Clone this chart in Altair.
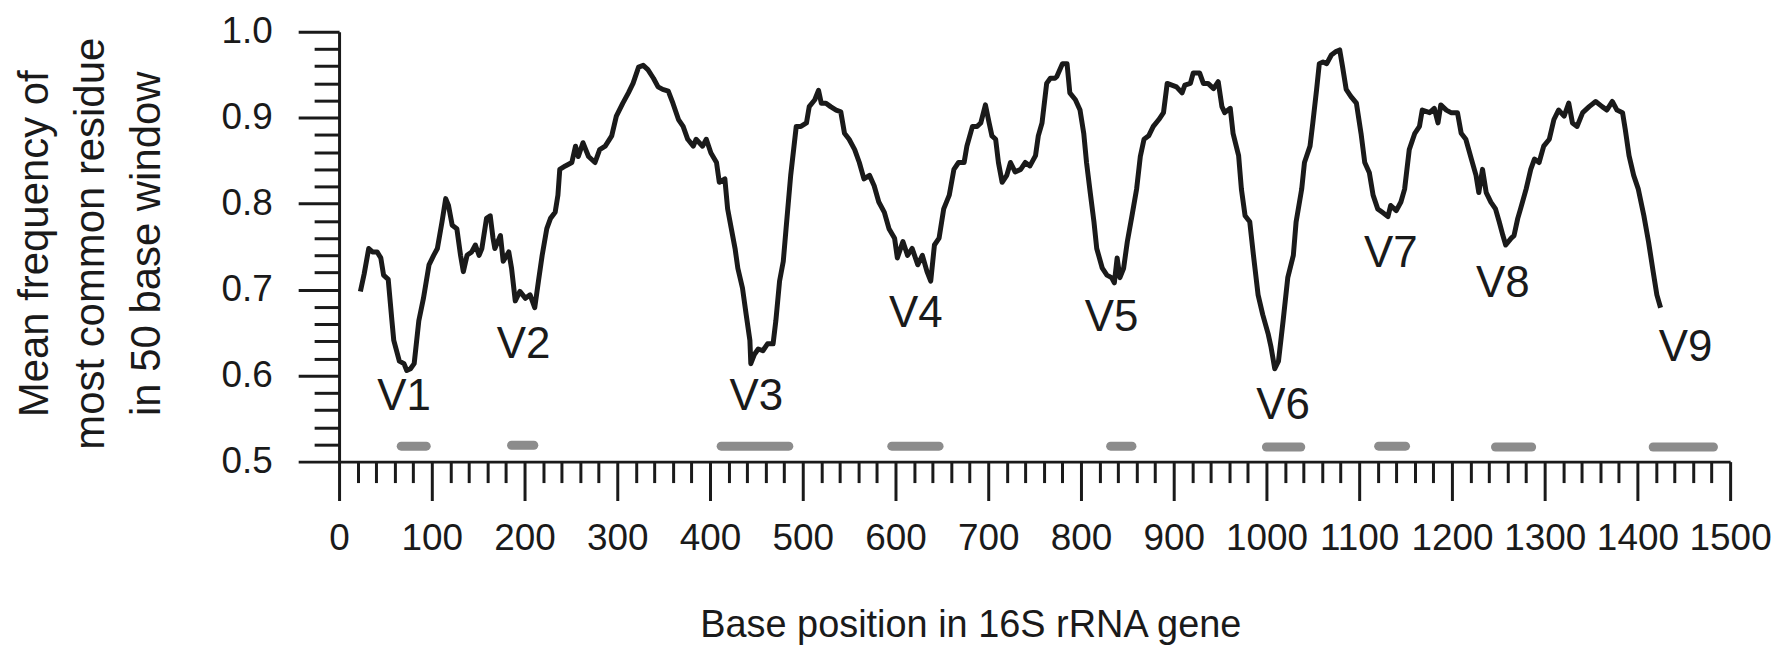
import altair as alt
import pandas as pd

# ---- data ----
position = [23, 27, 32, 36, 41, 45, 48, 53, 57, 59, 65, 70, 73, 77, 81, 86, 91, 97, 102, 106,
            111, 115, 118, 122, 127, 131, 134, 138, 143, 147, 151, 154, 159, 163, 166, 168, 174, 177, 183, 186,
            190, 195, 201, 206, 211, 215, 219, 224, 228, 233, 236, 238, 244, 251, 255, 258, 263, 269, 276, 281,
            287, 294, 299, 306, 312, 317, 323, 328, 333, 339, 344, 349, 355, 360, 366, 371, 376, 382, 385,
            392, 396, 401, 407, 410, 416, 419, 423, 427, 430, 435, 439, 443, 444, 448, 452, 457, 462, 468, 471,
            475, 479, 482, 487, 493, 498, 504, 507, 513, 517, 520, 525, 530, 536, 541, 545, 550, 556, 561, 566,
            572, 577, 582, 588, 593, 599, 602, 608, 613, 618, 624, 629, 634, 638, 642, 647, 652, 658, 663, 668,
            674, 677, 683, 688, 692, 697, 701, 704, 708, 711, 715, 720, 724, 729, 735, 740, 745, 751, 754, 758,
            763, 767, 772, 774, 780, 785, 788, 794, 799, 803, 806, 810, 814, 817, 823, 828, 833, 836, 839, 842,
            846, 850, 855, 860, 864, 868, 873, 878, 884, 889, 893, 898, 903, 909, 912, 918, 921, 928, 932, 937,
            943, 948, 952, 955, 961, 964, 970, 973, 977, 982, 986, 991, 996, 1002, 1005, 1009, 1013, 1018, 1023, 1029,
            1032, 1038, 1041, 1047, 1050, 1054, 1057, 1061, 1065, 1070, 1075, 1079, 1082, 1086, 1091, 1097, 1102, 1106, 1111, 1115,
            1120, 1125, 1131, 1134, 1140, 1145, 1149, 1154, 1160, 1165, 1168, 1176, 1181, 1185, 1188, 1194, 1199, 1206, 1210, 1215,
            1221, 1226, 1229, 1233, 1237, 1242, 1247, 1251, 1255, 1258, 1264, 1267, 1271, 1274, 1280, 1285, 1289, 1294, 1299, 1305,
            1310, 1315, 1321, 1326, 1330, 1335, 1341, 1348, 1355, 1362, 1367, 1373, 1378, 1384, 1387, 1391, 1396, 1401, 1407, 1412,
            1417, 1421, 1425]
frequency = [0.698, 0.718, 0.748, 0.744, 0.744, 0.737, 0.717, 0.712, 0.664, 0.641, 0.617, 0.614, 0.606, 0.608, 0.614, 0.664, 0.690, 0.729, 0.740, 0.748,
             0.779, 0.806, 0.798, 0.775, 0.771, 0.740, 0.721, 0.740, 0.744, 0.752, 0.740, 0.748, 0.783, 0.786, 0.760, 0.748, 0.763, 0.733, 0.744, 0.725,
             0.687, 0.698, 0.690, 0.694, 0.679, 0.710, 0.740, 0.771, 0.783, 0.790, 0.810, 0.840, 0.844, 0.848, 0.867, 0.855, 0.871, 0.855, 0.848, 0.863,
             0.867, 0.879, 0.902, 0.917, 0.929, 0.940, 0.959, 0.961, 0.956, 0.946, 0.936, 0.933, 0.931, 0.917, 0.898, 0.890, 0.875, 0.867, 0.875,
             0.867, 0.875, 0.859, 0.848, 0.825, 0.829, 0.794, 0.771, 0.748, 0.725, 0.702, 0.671, 0.641, 0.614, 0.625, 0.631, 0.629, 0.637, 0.637, 0.664,
             0.710, 0.733, 0.771, 0.833, 0.890, 0.890, 0.894, 0.913, 0.921, 0.932, 0.917, 0.917, 0.913, 0.909, 0.907, 0.882, 0.875, 0.863, 0.848, 0.829,
             0.833, 0.821, 0.802, 0.790, 0.771, 0.760, 0.737, 0.756, 0.740, 0.748, 0.729, 0.740, 0.721, 0.710, 0.752, 0.760, 0.794, 0.810, 0.840, 0.848,
             0.848, 0.867, 0.890, 0.890, 0.894, 0.915, 0.894, 0.879, 0.875, 0.848, 0.825, 0.833, 0.848, 0.837, 0.840, 0.848, 0.844, 0.856, 0.879, 0.894,
             0.940, 0.946, 0.946, 0.948, 0.963, 0.963, 0.929, 0.921, 0.909, 0.882, 0.848, 0.813, 0.779, 0.748, 0.725, 0.717, 0.714, 0.708, 0.737, 0.714,
             0.725, 0.756, 0.786, 0.817, 0.855, 0.875, 0.879, 0.890, 0.898, 0.906, 0.940, 0.938, 0.936, 0.929, 0.938, 0.940, 0.952, 0.952, 0.940, 0.940,
             0.934, 0.942, 0.913, 0.906, 0.911, 0.882, 0.856, 0.817, 0.786, 0.779, 0.740, 0.694, 0.671, 0.648, 0.633, 0.608, 0.617, 0.664, 0.714, 0.740,
             0.779, 0.817, 0.848, 0.867, 0.894, 0.932, 0.963, 0.965, 0.963, 0.973, 0.977, 0.979, 0.960, 0.933, 0.925, 0.917, 0.882, 0.848, 0.836, 0.810,
             0.794, 0.790, 0.785, 0.798, 0.792, 0.802, 0.817, 0.863, 0.882, 0.890, 0.909, 0.906, 0.911, 0.894, 0.915, 0.909, 0.906, 0.906, 0.882, 0.875,
             0.852, 0.833, 0.813, 0.840, 0.813, 0.802, 0.794, 0.779, 0.763, 0.752, 0.760, 0.763, 0.783, 0.794, 0.817, 0.840, 0.852, 0.848, 0.867, 0.875,
             0.898, 0.909, 0.902, 0.917, 0.894, 0.890, 0.906, 0.913, 0.919, 0.913, 0.909, 0.919, 0.909, 0.906, 0.886, 0.856, 0.833, 0.817, 0.786, 0.756,
             0.721, 0.694, 0.679]

region_name = ["V1", "V2", "V3", "V4", "V5", "V6", "V7", "V8", "V9"]
region_start = [67, 186, 412, 596, 832, 1000, 1121, 1247, 1417]
region_end = [94, 210, 485, 647, 855, 1037, 1150, 1286, 1482]
region_level = [0.518, 0.519, 0.518, 0.518, 0.518, 0.517, 0.518, 0.517, 0.517]
label_x = [70, 199, 450, 622, 833, 1018, 1134, 1255, 1452]
label_y = [0.575, 0.636, 0.575, 0.672, 0.667, 0.565, 0.741, 0.707, 0.632]

x_tick_values = list(range(0, 1501, 20))
y_tick_values = [round(0.5 + 0.02 * i, 2) for i in range(26)]

FONT = "Liberation Sans"
INK = "#1a1a1a"

line_df = pd.DataFrame({"position": position, "frequency": frequency})
region_df = pd.DataFrame({"name": region_name, "start": region_start, "end": region_end,
                          "level": region_level, "lx": label_x, "ly": label_y})

x_scale = alt.Scale(domain=[0, 1500], nice=False, zero=False)
y_scale = alt.Scale(domain=[0.5, 1.0], nice=False, zero=False)

x_major = "datum.value % 100 === 0"
y_major = "abs(datum.value * 10 - round(datum.value * 10)) < 0.001"

x_axis = alt.Axis(
    values=x_tick_values,
    labelExpr=f"{x_major} ? format(datum.value, 'd') : ''",
    tickSize={"condition": {"test": x_major, "value": 39}, "value": 21},
    tickWidth=3, tickColor=INK, domainWidth=3, domainColor=INK,
    labelFont=FONT, labelFontSize=37, labelColor=INK, labelPadding=20,
    labelOverlap=False, labelFlush=False, grid=False,
    title="Base position in 16S rRNA gene",
    titleFont=FONT, titleFontSize=38, titleFontWeight="normal", titleColor=INK,
    titleX=633, titleY=175, titleAlign="center", titleBaseline="alphabetic",
)
y_axis = alt.Axis(
    values=y_tick_values,
    labelExpr=f"{y_major} ? format(datum.value, '.1f') : ''",
    tickSize={"condition": {"test": y_major, "value": 41}, "value": 25},
    tickWidth=3, tickColor=INK, domainWidth=3, domainColor=INK,
    labelFont=FONT, labelFontSize=37, labelColor=INK, labelPadding=26,
    labelOverlap=False, labelFlush=False, grid=False,
    title=["Mean frequency of", "most common residue", "in 50 base window"],
    titleFont=FONT, titleFontSize=42, titleFontWeight="normal", titleColor=INK,
    titleAngle=270, titleX=-292, titleY=212, titleAlign="center", titleBaseline="alphabetic",
    titleLineHeight=56,
)

line = alt.Chart(line_df).mark_line(color=INK, strokeWidth=5, strokeJoin="round").encode(
    x=alt.X("position:Q", scale=x_scale, axis=x_axis),
    y=alt.Y("frequency:Q", scale=y_scale, axis=y_axis),
)

bars = alt.Chart(region_df).mark_rule(color="#8c8c8c", strokeWidth=9, strokeCap="round").encode(
    x=alt.X("start:Q", scale=x_scale, axis=x_axis),
    x2="end:Q",
    y=alt.Y("level:Q", scale=y_scale, axis=y_axis),
)

labels = alt.Chart(region_df).mark_text(font=FONT, fontSize=44, color=INK, align="center",
                                        baseline="middle").encode(
    x=alt.X("lx:Q", scale=x_scale, axis=x_axis),
    y=alt.Y("ly:Q", scale=y_scale, axis=y_axis),
    text="name:N",
)

chart = alt.layer(bars, line, labels).properties(
    width=1395, height=431,
    padding={"left": 332, "top": 23, "right": 44, "bottom": 190},
    autosize=alt.AutoSizeParams(type="none"),
    background="white",
).configure_view(stroke=None)

chart.save("out.html", embed_options={"renderer": "svg", "actions": False})
